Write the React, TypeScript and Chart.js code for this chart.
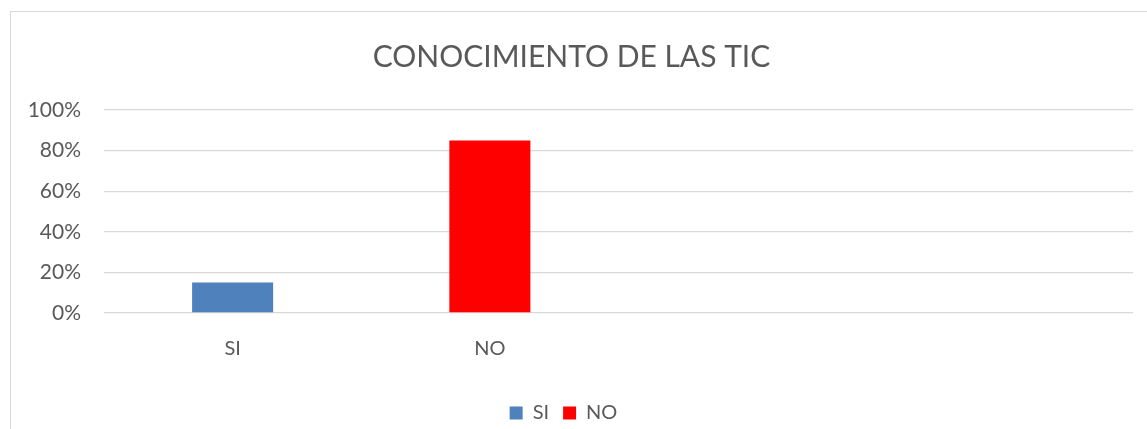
import React, { useEffect, useRef } from "react";
import { Chart, registerables } from "chart.js";

Chart.register(...registerables);

const categories: string[] = ["SI", "NO", "", ""];
const siValues: (number | null)[] = [15, null, null, null];
const noValues: (number | null)[] = [null, 85, null, null];
const seriesNames: string[] = ["SI", "NO"];
const seriesColors: string[] = ["#4F81BD", "#FF0000"];
const titleText = "CONOCIMIENTO DE LAS TIC";

const FONT = "Lato, 'Open Sans', sans-serif";
const TEXT = "#595959";
const GRID = "#D9D9D9";

const legendShift = {
  id: "legendShift",
  afterLayout(chart: any) {
    if (chart.legend) {
      chart.legend.left -= 8;
      chart.legend.right -= 8;
    }
  },
};

export default function App() {
  const ref = useRef<HTMLCanvasElement | null>(null);

  useEffect(() => {
    document.body.style.margin = "0";
    document.body.style.overflow = "hidden";
    const canvas = ref.current;
    if (!canvas) return;
    const chart = new Chart(canvas, {
      type: "bar",
      data: {
        labels: categories,
        datasets: [
          {
            label: seriesNames[0],
            data: siValues,
            backgroundColor: seriesColors[0],
            borderWidth: 0,
          },
          {
            label: seriesNames[1],
            data: noValues,
            backgroundColor: seriesColors[1],
            borderWidth: 0,
          },
        ],
      },
      plugins: [legendShift],
      options: {
        responsive: false,
        animation: false,
        devicePixelRatio: 1,
        layout: { padding: { left: 10, right: 14, top: 0, bottom: -4 } },
        datasets: {
          bar: { categoryPercentage: 1, barPercentage: 0.315 },
        },
        plugins: {
          tooltip: { enabled: false },
          title: {
            display: true,
            text: titleText,
            color: TEXT,
            font: { family: FONT, size: 30, weight: "normal" },
            padding: { top: 39, bottom: 35 },
          },
          legend: {
            display: true,
            position: "bottom",
            labels: {
              color: TEXT,
              font: { family: FONT, size: 20 },
              boxWidth: 13,
              boxHeight: 13,
              padding: 14,
            },
          },
        },
        scales: {
          x: {
            stacked: true,
            grid: { display: false, drawTicks: false },
            border: { display: false },
            ticks: {
              color: TEXT,
              font: { family: FONT, size: 20 },
              padding: 24,
              maxRotation: 0,
            },
            afterFit: (scale: any) => {
              scale.height = 76;
            },
          },
          y: {
            stacked: true,
            min: 0,
            max: 100,
            grid: { color: GRID, lineWidth: 1.3, drawTicks: false },
            border: { display: false },
            ticks: {
              stepSize: 20,
              color: TEXT,
              font: { family: FONT, size: 21 },
              padding: 23,
              callback: (v: any) => `${v}%`,
            },
            afterFit: (scale: any) => {
              scale.width = 94;
            },
          },
        },
      },
    });
    return () => chart.destroy();
  }, []);

  return (
    <div style={{ position: "absolute", left: 0, top: 0, width: 1147, height: 429, background: "#fff" }}>
      <div
        style={{
          position: "absolute",
          left: 10,
          top: 11,
          width: 1137,
          height: 418,
          borderLeft: `1px solid ${GRID}`,
          borderTop: `1px solid ${GRID}`,
          boxSizing: "border-box",
        }}
      />
      <canvas ref={ref} width={1147} height={429} style={{ position: "absolute", left: 0, top: 0 }} />
    </div>
  );
}
